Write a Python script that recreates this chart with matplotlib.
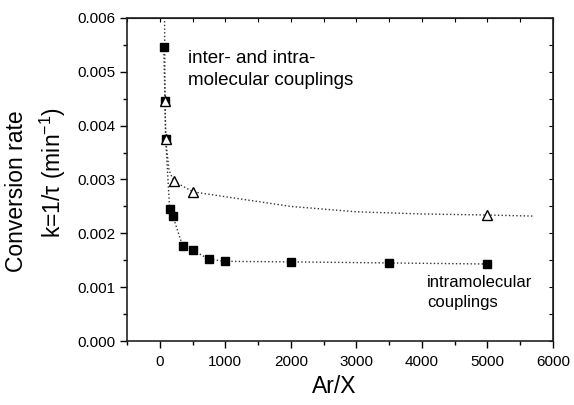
import numpy as np
import matplotlib.pyplot as plt
from matplotlib.ticker import MultipleLocator, FormatStrFormatter

plt.rcParams['font.family'] = ['Liberation Sans', 'DejaVu Sans']
plt.rcParams['mathtext.fontset'] = 'custom'
plt.rcParams['mathtext.rm'] = 'Liberation Sans'
plt.rcParams['mathtext.it'] = 'Liberation Sans:italic'

# intramolecular couplings (filled squares)
ar_intra = [60, 80, 90, 150, 200, 350, 500, 750, 1000, 2000, 3500, 5000]
k_intra = [0.00547, 0.00445, 0.00375, 0.00246, 0.00232, 0.00176, 0.00169,
           0.00152, 0.00148, 0.00147, 0.00145, 0.00143]

# inter- and intramolecular couplings (open triangles)
ar_inter = [80, 90, 210, 510, 5000]
k_inter = [0.00445, 0.00375, 0.00297, 0.00277, 0.00234]

# dotted guide curve through the triangles
ar_fit = [70, 80, 90, 140, 210, 510, 1000, 2000, 3000, 4000, 5000, 5700]
k_fit = [0.0066, 0.00445, 0.00375, 0.00318, 0.00297, 0.00277, 0.00268,
         0.00250, 0.00240, 0.00236, 0.00234, 0.00232]

fig = plt.figure(figsize=(5.74, 4.05), dpi=100)
ax = fig.add_axes([0.2213, 0.158, 0.742, 0.7976])

ax.plot(ar_fit, k_fit, ':', color='#333333', lw=1.0)
ax.plot(ar_intra, k_intra, ':', color='#333333', lw=1.0)
ax.plot(ar_intra, k_intra, 's', color='black', ms=6, ls='none')
ax.plot(ar_inter, k_inter, '^', mfc='white', mec='black', mew=1.0, ms=6.5, ls='none')

ax.set_xlim(-500, 6000)
ax.set_ylim(0, 0.006)
ax.xaxis.set_major_locator(MultipleLocator(1000))
ax.xaxis.set_minor_locator(MultipleLocator(500))
ax.yaxis.set_major_locator(MultipleLocator(0.001))
ax.yaxis.set_minor_locator(MultipleLocator(0.0005))
ax.yaxis.set_major_formatter(FormatStrFormatter('%.3f'))
ax.tick_params(which='major', direction='out', length=5, width=1, labelsize=11)
ax.tick_params(which='minor', direction='out', length=3, width=1)
ax.tick_params(axis='x', pad=5)

for side in ax.spines.values():
    side.set_linewidth(1.2)
    side.set_color('#222222')

top = ax.secondary_xaxis('top')
top.xaxis.set_major_locator(MultipleLocator(500))
top.tick_params(direction='in', length=3, labeltop=False)
right = ax.secondary_yaxis('right')
right.yaxis.set_major_locator(MultipleLocator(0.0005))
right.tick_params(direction='in', length=3, labelright=False)

fig.text(0.582, 0.045, 'Ar/X', fontsize=16.5, ha='center', va='center')
fig.text(0.028, 0.528, 'Conversion rate', rotation=90, fontsize=16.5,
         ha='center', va='center')
fig.text(0.093, 0.575, 'k=1/τ (min$^{-1}$)', rotation=90, fontsize=16.5,
         ha='center', va='center')

ax.text(0.143, 0.90, 'inter- and intra-\nmolecular couplings', transform=ax.transAxes,
        fontsize=13.5, va='top', ha='left', linespacing=1.4)
ax.text(0.705, 0.205, 'intramolecular\ncouplings', transform=ax.transAxes,
        fontsize=12, va='top', ha='left', linespacing=1.45)

fig.savefig('out.png', dpi=100)
